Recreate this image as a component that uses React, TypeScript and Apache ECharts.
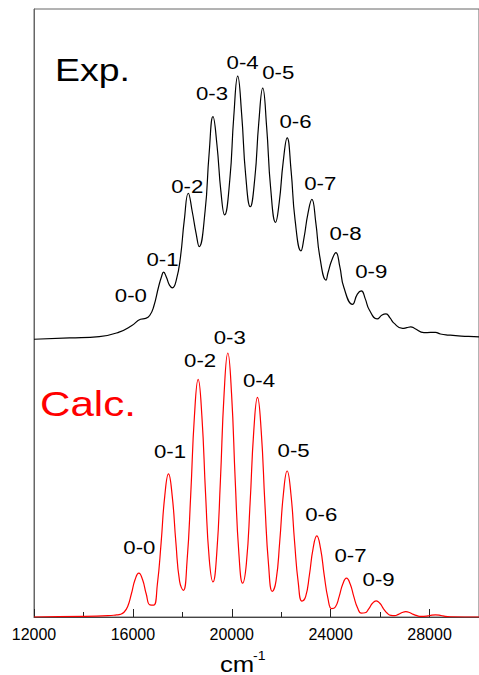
import React, { useEffect, useRef } from 'react';
import * as echarts from 'echarts';

const X_MIN = 12000;
const X_MAX = 30000;
const X_TICK = 4000;
const Y_MAX = 2.303;
const EXP_OFFSET = 1.051;

// Experimental spectrum (wavenumber cm-1, relative intensity above its own baseline)
const EXP_X = [12000, 13440, 14640, 15440, 15960, 16308, 16520, 16680, 16840, 17040, 17160, 17240, 17360, 17480, 17600, 17760, 17920, 18080, 18240, 18400, 18560, 18680, 18920, 19080, 19240, 19400, 19560, 19708, 19920, 20080, 20240, 20400, 20560, 20748, 20932, 21092, 21252, 21412, 21572, 21772, 21920, 22080, 22240, 22400, 22560, 22800, 22920, 23080, 23240, 23400, 23560, 23812, 23892, 24052, 24212, 24372, 24532, 24880, 25080, 25240, 25400, 25560, 25880, 26080, 26240, 26400, 26560, 26908, 27080, 27240, 27400, 27772, 28040, 28240, 28440, 28772, 29280, 29800, 30000];
const EXP_Y = [0.001, 0.006, 0.011, 0.028, 0.053, 0.077, 0.080, 0.091, 0.124, 0.200, 0.239, 0.255, 0.235, 0.206, 0.196, 0.227, 0.309, 0.453, 0.554, 0.485, 0.400, 0.352, 0.486, 0.700, 0.844, 0.738, 0.561, 0.472, 0.605, 0.844, 0.998, 0.853, 0.625, 0.503, 0.611, 0.821, 0.952, 0.803, 0.574, 0.444, 0.520, 0.673, 0.764, 0.639, 0.453, 0.336, 0.384, 0.477, 0.531, 0.442, 0.314, 0.225, 0.253, 0.302, 0.329, 0.275, 0.198, 0.133, 0.172, 0.184, 0.154, 0.113, 0.078, 0.093, 0.097, 0.082, 0.062, 0.042, 0.045, 0.048, 0.042, 0.026, 0.027, 0.027, 0.021, 0.017, 0.013, 0.011, 0.010];

// Calculated spectrum
const CALC_X = [12000, 14000, 15000, 15340, 15490, 15640, 15790, 15940, 16090, 16240, 16390, 16540, 16690, 16840, 16990, 17140, 17290, 17440, 17590, 17740, 17890, 18040, 18190, 18340, 18490, 18640, 18790, 18940, 19090, 19240, 19390, 19540, 19690, 19840, 19990, 20140, 20290, 20440, 20590, 20740, 20890, 21040, 21190, 21340, 21490, 21640, 21790, 21940, 22090, 22240, 22390, 22540, 22690, 22840, 22990, 23140, 23290, 23440, 23590, 23740, 23890, 24040, 24190, 24340, 24490, 24640, 24790, 24940, 25090, 25240, 25390, 25540, 25690, 25840, 25990, 26140, 26290, 26440, 26590, 26740, 26890, 27040, 27190, 27340, 27490, 27640, 27940, 28090, 28240, 28390, 28540, 28840, 30000];
const CALC_Y = [0, 0.002, 0.005, 0.008, 0.010, 0.018, 0.040, 0.088, 0.142, 0.166, 0.142, 0.087, 0.046, 0.045, 0.124, 0.279, 0.459, 0.542, 0.459, 0.281, 0.135, 0.101, 0.210, 0.464, 0.762, 0.900, 0.762, 0.466, 0.218, 0.133, 0.238, 0.516, 0.847, 1.000, 0.847, 0.516, 0.237, 0.128, 0.202, 0.430, 0.705, 0.832, 0.705, 0.429, 0.195, 0.097, 0.137, 0.286, 0.468, 0.553, 0.468, 0.285, 0.129, 0.060, 0.078, 0.159, 0.260, 0.307, 0.260, 0.158, 0.071, 0.032, 0.038, 0.076, 0.125, 0.147, 0.125, 0.076, 0.034, 0.015, 0.016, 0.031, 0.052, 0.061, 0.052, 0.031, 0.014, 0.006, 0.005, 0.010, 0.017, 0.020, 0.017, 0.010, 0.005, 0.002, 0.004, 0.007, 0.008, 0.007, 0.004, 0.001, 0];

// Peak annotations (data coordinates of label centres)
const EXP_LABELS = ['0-0', '0-1', '0-2', '0-3', '0-4', '0-5', '0-6', '0-7', '0-8', '0-9'];
const EXP_LABEL_X = [15920, 17200, 18200, 19200, 20440, 21880, 22580, 23580, 24600, 25640];
const EXP_LABEL_Y = [1.220, 1.356, 1.633, 1.985, 2.102, 2.064, 1.879, 1.644, 1.453, 1.309];
const CALC_LABELS = ['0-0', '0-1', '0-2', '0-3', '0-4', '0-5', '0-6', '0-7', '0-9'];
const CALC_LABEL_X = [16260, 17500, 18720, 19920, 21100, 22500, 23620, 24800, 25940];
const CALC_LABEL_Y = [0.263, 0.627, 0.973, 1.059, 0.898, 0.634, 0.388, 0.235, 0.142];

const FONT = '"Liberation Sans", Arial, Helvetica, sans-serif';
const STRETCH = 1.17;

function textEl(text: string, x: number, y: number, size: number, color: string, align: string) {
  return {
    type: 'text',
    x,
    y,
    scaleX: STRETCH,
    silent: true,
    style: {
      text,
      fill: color,
      font: `${size}px ${FONT}`,
      fontSize: size,
      fontFamily: FONT,
      align,
      textAlign: align,
      verticalAlign: 'middle',
      textVerticalAlign: 'middle',
    },
  };
}

export default function App() {
  const ref = useRef<HTMLDivElement>(null);
  useEffect(() => {
    if (!ref.current) return;
    const chart = echarts.init(ref.current, null, { renderer: 'svg' });
    const expData = EXP_X.map((x, i) => [x, EXP_OFFSET + EXP_Y[i]]);
    const calcData = CALC_X.map((x, i) => [x, CALC_Y[i]]);
    chart.setOption({
      animation: false,
      backgroundColor: '#ffffff',
      grid: {
        left: 34,
        top: 9,
        right: -5,
        bottom: 58,
        show: true,
        borderColor: '#666666',
        borderWidth: 1,
        backgroundColor: 'transparent',
      },
      xAxis: {
        type: 'value',
        min: X_MIN,
        max: X_MAX,
        interval: X_TICK,
        axisLine: { show: true, lineStyle: { color: '#444444', width: 1 } },
        axisTick: { show: true, inside: true, length: 8, lineStyle: { color: '#222222' } },
        minorTick: { show: true, splitNumber: 2, length: 5, lineStyle: { color: '#222222' } },
        axisLabel: {
          show: true,
          showMaxLabel: false,
          margin: 9,
          color: '#000000',
          fontSize: 16,
          fontFamily: FONT,
          formatter: (v: number) => String(v),
        },
        splitLine: { show: false },
        minorSplitLine: { show: false },
      },
      yAxis: {
        type: 'value',
        min: 0,
        max: Y_MAX,
        axisLine: { show: true, lineStyle: { color: '#666666', width: 1 } },
        axisTick: { show: false },
        axisLabel: { show: false },
        splitLine: { show: false },
      },
      series: [
        {
          name: 'Exp.',
          type: 'line',
          data: expData,
          smooth: 0.5,
          showSymbol: false,
          silent: true,
          lineStyle: { color: '#000000', width: 1.2 },
        },
        {
          name: 'Calc.',
          type: 'line',
          data: calcData,
          smooth: 0.5,
          showSymbol: false,
          silent: true,
          lineStyle: { color: '#ff0000', width: 1.2 },
        },
      ],
    });

    const toPx = (x: number, y: number) => chart.convertToPixel({ seriesIndex: 0 }, [x, y]) as number[];
    const graphics: any[] = [];
    EXP_LABELS.forEach((t, i) => {
      const p = toPx(EXP_LABEL_X[i], EXP_LABEL_Y[i]);
      graphics.push(textEl(t, p[0], p[1], 19, '#000000', 'center'));
    });
    CALC_LABELS.forEach((t, i) => {
      const p = toPx(CALC_LABEL_X[i], CALC_LABEL_Y[i]);
      graphics.push(textEl(t, p[0], p[1], 19, '#000000', 'center'));
    });
    graphics.push(textEl('Exp.', 55, 70, 32, '#000000', 'left'));
    graphics.push(textEl('Calc.', 40, 404, 36, '#ff0000', 'left'));
    graphics.push(textEl('cm', 220, 664, 22, '#000000', 'left'));
    graphics.push(textEl('-1', 253, 656, 12, '#000000', 'left'));
    chart.setOption({ graphic: graphics });

    return () => chart.dispose();
  }, []);
  return (
    <div
      ref={ref}
      style={{ position: 'absolute', left: 0, top: 0, width: 479, height: 675, background: '#fff' }}
    />
  );
}
